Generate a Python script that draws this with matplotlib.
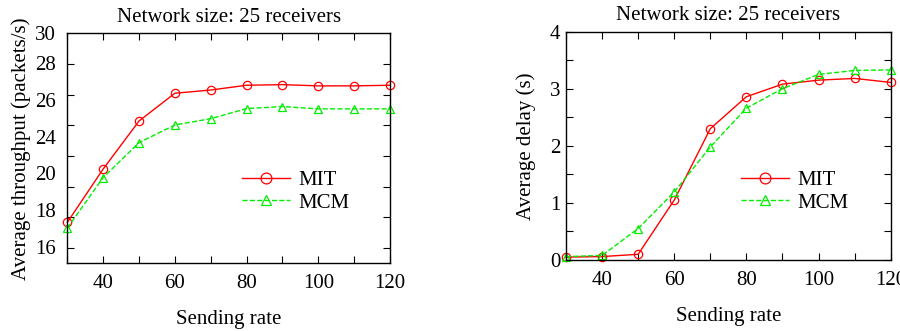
import numpy as np
import matplotlib
matplotlib.use('Agg')
from matplotlib import pyplot as plt

rate = [30, 40, 50, 60, 70, 80, 90, 100, 110, 120]

thr_mit = [17.67, 21.15, 24.28, 26.09, 26.30, 26.61, 26.65, 26.57, 26.57, 26.61]
thr_mcm = [17.30, 20.59, 22.87, 24.02, 24.43, 25.09, 25.22, 25.07, 25.07, 25.07]

delay_mit = [0.05, 0.06, 0.10, 1.05, 2.30, 2.86, 3.08, 3.15, 3.18, 3.11]
delay_mcm = [0.06, 0.08, 0.55, 1.19, 1.98, 2.66, 3.00, 3.25, 3.32, 3.33]

# the y labels of the throughput plot sit off their tick marks in the original
thr_label_pos = [30, 28.04, 25.65, 23.26, 20.87, 18.47, 16.08]
thr_labels = ['30', '28', '26', '24', '20', '18', '16']

plt.rcParams['font.family'] = ['Liberation Serif', 'DejaVu Serif']
plt.rcParams['font.size'] = 15

fig = plt.figure(figsize=(9, 3.31), dpi=100)
ax1 = fig.add_axes([0.0748, 0.2045, 0.3586, 0.695])
ax2 = fig.add_axes([0.6289, 0.2145, 0.3608, 0.690])

def style(ax):
    ax.set_xlim(30, 120)
    ax.set_xticks([40, 60, 80, 100, 120])
    ax.set_xticks(range(30, 121, 10), minor=True)
    ax.tick_params(which='both', direction='in', top=True, right=True,
                   length=5, width=0.8, labelsize=15)
    ax.tick_params(axis='x', which='both', length=5, pad=8)
    for s in ax.spines.values():
        s.set_linewidth(1.0)
    ax.set_xlabel('Sending rate', fontsize=15, labelpad=12)
    ax.set_title('Network size: 25 receivers', fontsize=15, pad=8)

def add_legend(ax, x, y):
    ax.legend(loc='center left', bbox_to_anchor=(x, y), frameon=False,
              handlelength=2.3, handletextpad=0.4, fontsize=15,
              labelspacing=0.15, borderpad=0, borderaxespad=0, markerscale=1.3)

# throughput
ax1.plot(rate, thr_mit, '-', color='#ff0000', lw=1.0, marker='o', ms=6,
         mfc='none', mec='#ff0000', mew=0.9, label='MIT', clip_on=False)
ax1.plot(rate, thr_mcm, '--', color='#00ee00', lw=1.0, marker='^', ms=6,
         mfc='none', mec='#00ee00', mew=0.9, label='MCM', clip_on=False)
style(ax1)
ax1.set_ylim(15, 30)
ax1.set_yticks(thr_label_pos)
ax1.set_yticklabels(thr_labels)
ax1.tick_params(axis='y', which='major', length=0, pad=8)
ax1.set_yticks(np.arange(16, 31, 2), minor=True)
ax1.tick_params(axis='y', which='minor', length=5, left=True, right=True)
ax1.set_ylabel('Average throughput (packets/s)', fontsize=15, labelpad=3)
add_legend(ax1, 0.541, 0.312)

# delay
ax2.plot(rate, delay_mit, '-', color='#ff0000', lw=1.0, marker='o', ms=6,
         mfc='none', mec='#ff0000', mew=0.9, label='MIT', clip_on=False)
ax2.plot(rate, delay_mcm, '--', color='#00ee00', lw=1.0, marker='^', ms=6,
         mfc='none', mec='#00ee00', mew=0.9, label='MCM', clip_on=False)
style(ax2)
ax2.set_ylim(0, 4)
ax2.set_yticks([0, 1, 2, 3, 4])
ax2.set_yticks(np.arange(0, 4.01, 0.5), minor=True)
ax2.tick_params(axis='y', which='both', length=5, pad=4)
ax2.set_ylabel('Average delay (s)', fontsize=15, labelpad=10)
add_legend(ax2, 0.539, 0.30)

fig.savefig('out.png', dpi=100)
